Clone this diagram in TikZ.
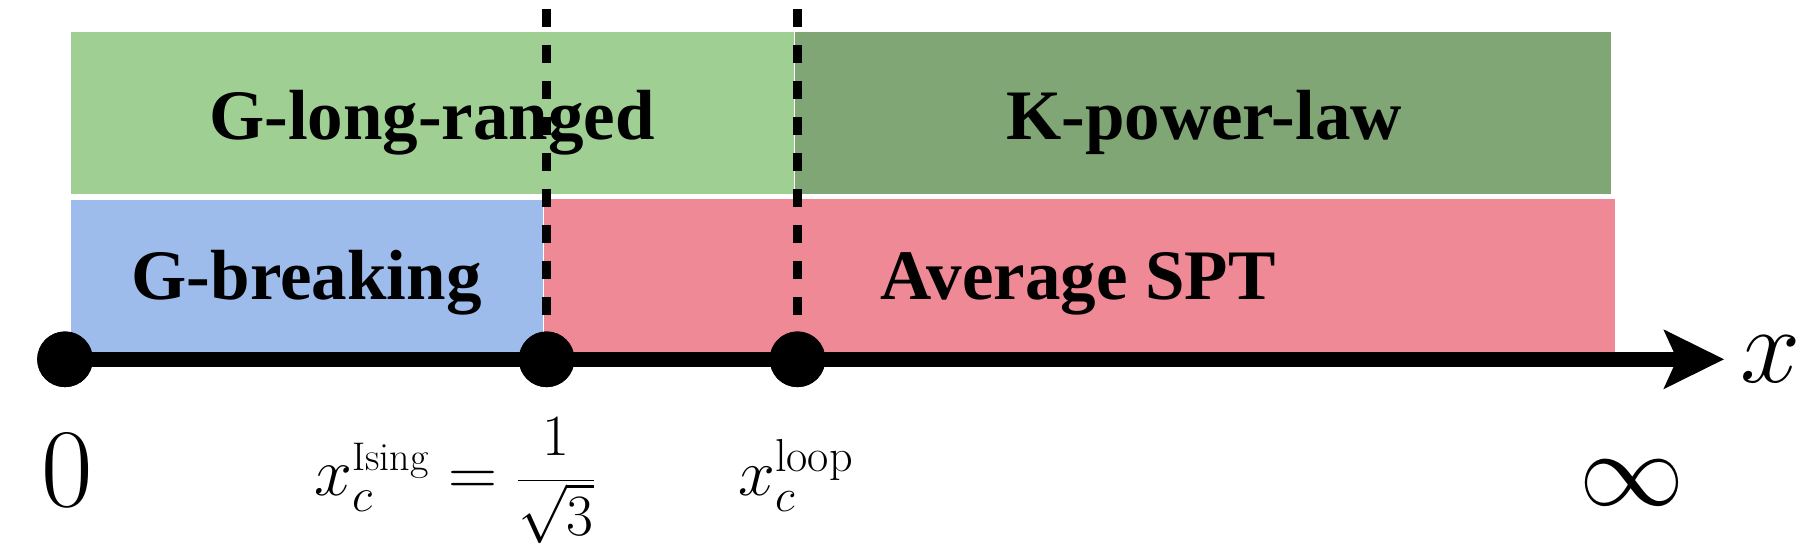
\RequirePackage{fix-cm}
\documentclass[tikz,border=0pt]{standalone}
\usepackage{fontspec}
\newfontfamily\labfont{Liberation Serif}
\definecolor{lgreen}{RGB}{160,207,147}
\definecolor{dgreen}{RGB}{128,166,117}
\definecolor{lblue}{RGB}{157,187,235}
\definecolor{lpink}{RGB}{239,137,150}
\tikzset{
  phase/.style={anchor=base, inner sep=0pt, font=\labfont\bfseries\fontsize{35.5}{40}\selectfont},
  crit/.style={circle, fill=black, minimum size=27.8pt, inner sep=0pt},
  boundary/.style={line width=4.5pt, dash pattern=on 9pt off 9pt, line cap=butt},
  axisline/.style={line width=7.35pt},
  mathlab/.style={anchor=base, inner sep=0pt},
}
\begin{document}
\begin{tikzpicture}[x=0.5pt, y=-0.5pt]
\useasboundingbox (0,0) rectangle (1814,560);
% regions
\fill[lgreen] (71,32) rectangle (794,194);
\fill[dgreen] (795.2,32) rectangle (1611,194);
\fill[lblue] (71,200) rectangle (542.5,352);
\fill[lpink] (543.7,199) rectangle (1615,352);
% axis
\node[crit] (d0) at (65,359.3) {};
\node[crit] (d1) at (546.6,359.3) {};
\node[crit] (d2) at (797.5,359.3) {};
\coordinate (tip) at (1724,359.3);
\coordinate (bu) at (1663.3,329.3);
\coordinate (bl) at (1663.3,389.3);
\coordinate (ins) at (1677,359.3);
\draw[axisline] (d0.center) -- (ins);
\fill (tip) -- (bu) -- (ins) -- (bl) -- cycle;
\fill (d0.center) circle (13.9pt);
% dashed boundaries
\coordinate (t1) at (546.6,9);
\coordinate (t2) at (797.5,9);
\draw[boundary] (t1) -- (d1.center);
\draw[boundary] (t2) -- (d2.center);
\fill (d1.center) circle (13.9pt);
\fill (d2.center) circle (13.9pt);
% phase labels
\node[phase] (glr) at (432,140) {G-long-ranged};
\node[phase] (kpl) at (1204,140) {K-power-law};
\node[phase] (gbr) at (306.6,300) {G-breaking};
\node[phase] (spt) at (1078,300) {Average SPT};
% axis labels
\node[mathlab, font=\fontsize{56}{60}\selectfont] (l0) at (67,506.5) {$0$};
\node[mathlab, font=\fontsize{52.5}{60}\selectfont] (linf) at (1631.5,506) {$\infty$};
\node[mathlab, font=\fontsize{54}{60}\selectfont] (lx) at (1771,383) {$x$};
\node[mathlab, font=\fontsize{34}{40}\selectfont] (lis) at (455,495) {$x_c^{\mbox{\fontsize{20}{20}\selectfont Ising}} = \scalebox{0.86}{$\displaystyle\frac{1}{\sqrt{3}}$}$};
\node[mathlab, font=\fontsize{33}{40}\selectfont] (llp) at (796,495) {$x_c^{\mathrm{loop}}$};
\end{tikzpicture}
\end{document}
